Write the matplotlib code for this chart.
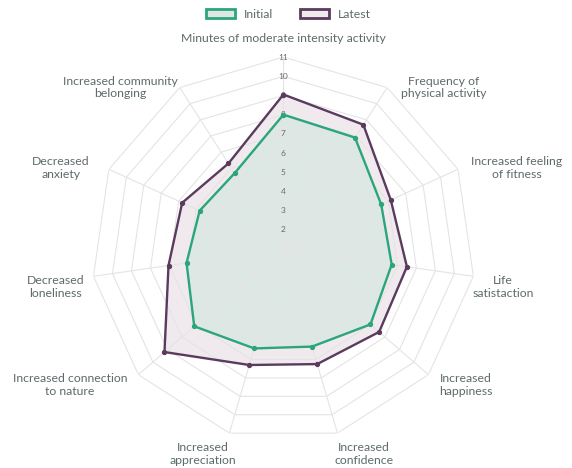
#!/usr/bin/env python3

import numpy as np
import matplotlib
matplotlib.use("Agg")
import matplotlib.pyplot as plt
from matplotlib.patches import Patch


# =========================
# Data (clockwise from top)
# =========================
CATEGORIES = [
    "Minutes of moderate intensity activity",
    "Frequency of\nphysical activity",
    "Increased feeling\nof fitness",
    "Life\nsatistaction",
    "Increased\nhappiness",
    "Increased\nconfidence",
    "Increased\nappreciation",
    "Increased connection\nto nature",
    "Decreased\nloneliness",
    "Decreased\nanxiety",
    "Increased community\nbelonging",
]

INITIAL = [8.0, 7.9, 6.6, 6.7, 7.0, 6.3, 6.4, 7.15, 6.1, 5.8, 5.7]
LATEST = [9.05, 8.7, 7.15, 7.5, 7.6, 7.25, 7.3, 9.2, 7.05, 6.8, 6.3]

RADIAL_TICKS = [2, 3, 4, 5, 6, 7, 8, 9, 10, 11]
R_MIN, R_MAX = 1, 11

# =========================
# Style
# =========================
GREEN = "#2ba57b"
PURPLE = "#5a3b5d"
GREEN_FILL = "#dde8e4"
PURPLE_FILL = "#f0eaef"
GRID = "#e4e4e4"
TEXT = "#5d6b6b"
FONT = "Lato"

# label anchor and pixel offset from the outer vertex
LABEL_STYLE = [
    ("center", 0, 19),
    ("left", 14, 0),
    ("left", 13, 1),
    ("left", -1, -11),
    ("left", 11, -10),
    ("left", -3, -21),
    ("right", 7, -21),
    ("right", -11, -10),
    ("right", -9, -11),
    ("right", -19, 1),
    ("right", -2, 0),
]


def main():
    plt.rcParams["font.family"] = [FONT, "DejaVu Sans"]

    n = len(CATEGORIES)
    angles = np.linspace(0, 2 * np.pi, n, endpoint=False)
    closed = np.append(angles, angles[0])

    fig = plt.figure(figsize=(5.72, 4.68), dpi=100)
    ax = fig.add_axes([0.16, 0.0577, 0.671, 0.8205], projection="polar")
    ax.set_theta_zero_location("N")
    ax.set_theta_direction(-1)
    ax.set_ylim(R_MIN, R_MAX)
    ax.grid(False)
    ax.spines["polar"].set_visible(False)
    ax.set_xticks([])
    ax.set_yticks([])

    # fills under the grid
    ax.fill(closed, LATEST + LATEST[:1], color=PURPLE_FILL, zorder=1, lw=0)
    ax.fill(closed, INITIAL + INITIAL[:1], color=GREEN_FILL, zorder=1.1, lw=0)

    # polygon grid
    for v in RADIAL_TICKS:
        ax.plot(closed, [v] * (n + 1), color=GRID, lw=0.8, zorder=2)
    for a in angles:
        ax.plot([a, a], [R_MIN, R_MAX], color=GRID, lw=0.8, zorder=2)

    for v in RADIAL_TICKS:
        ax.text(0, v, str(v), ha="center", va="center", fontsize=6,
                color="#6a6a6a", zorder=2.5)

    ax.plot(closed, LATEST + LATEST[:1], color=PURPLE, lw=1.7, zorder=4,
            marker="o", markersize=2.8)
    ax.plot(closed, INITIAL + INITIAL[:1], color=GREEN, lw=1.7, zorder=4,
            marker="o", markersize=2.8)

    for a, label, (ha, dx, dy) in zip(angles, CATEGORIES, LABEL_STYLE):
        ax.annotate(label, xy=(a, R_MAX), xytext=(dx, dy),
                    textcoords="offset pixels", ha=ha, va="center",
                    multialignment="center", fontsize=8.8, color=TEXT,
                    annotation_clip=False)

    handles = [
        Patch(facecolor=GREEN_FILL, edgecolor=GREEN, lw=2, label="Initial"),
        Patch(facecolor=PURPLE_FILL, edgecolor=PURPLE, lw=2, label="Latest"),
    ]
    leg = fig.legend(handles=handles, loc="upper center",
                     bbox_to_anchor=(0.505, 1.005), ncol=2, frameon=False,
                     fontsize=8.8, handlelength=2.3, handleheight=0.85,
                     handletextpad=0.8, columnspacing=2.2)
    for t in leg.get_texts():
        t.set_color(TEXT)

    fig.savefig("out.png", dpi=100, facecolor="white")
    plt.close(fig)


if __name__ == "__main__":
    main()
